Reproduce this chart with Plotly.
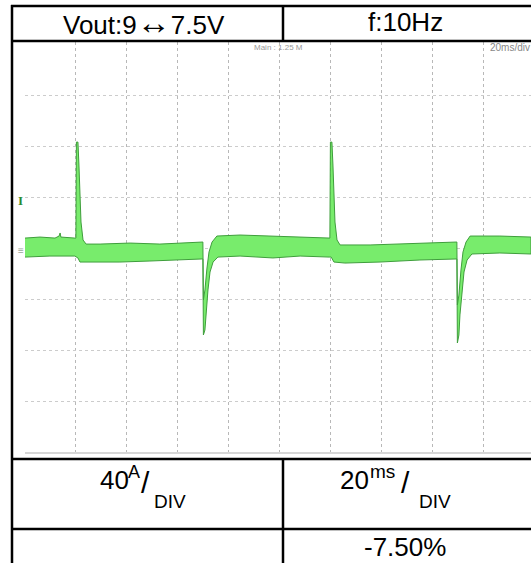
import plotly.graph_objects as go

# ---- data (time in ms, current in A relative to the ground marker) ----
upper_t = [0.0, 5.9, 11.8, 13.4, 13.8, 14.1, 19.6, 20.0, 20.2, 20.8, 21.2, 21.6, 22.0, 22.8, 24.0,
           29.5, 41.3, 53.0, 64.8, 69.5, 69.9, 70.1, 70.7, 71.5, 72.3, 73.5, 75.4,
           84.5, 96.3, 108.1, 119.5, 119.8, 120.0, 120.6, 121.0, 121.4, 121.8, 122.6, 123.8,
           135.6, 147.4, 159.1, 169.4, 169.7, 169.9, 170.5, 171.3, 172.1, 173.3, 174.9,
           186.6, 198.8]
upper_a = [7.8, 8.6, 7.8, 9.4, 11.8, 8.6, 7.8, 7.8, 83.1, 83.1, 65.1, 41.6, 20.4, 6.3, 3.1,
           3.1, 3.9, 3.1, 3.9, 4.7, 4.7, -40.8, -32.9, -15.7, -3.1, 4.7, 9.4,
           10.2, 9.4, 8.6, 7.8, 7.8, 83.1, 83.1, 65.1, 41.6, 20.4, 6.3, 2.4,
           2.4, 3.1, 3.9, 4.7, 4.7, -44.7, -36.9, -17.3, -3.1, 4.7, 9.4,
           9.4, 8.6]
lower_t = [0.0, 9.8, 19.6, 20.8, 21.6, 25.5, 37.3, 49.1, 60.9, 69.5, 69.9, 70.1, 70.7, 71.1,
           71.9, 72.7, 73.9, 75.8, 84.5, 97.4, 108.1, 119.5, 120.3, 121.4, 125.7, 139.5,
           155.2, 169.4, 169.7, 169.9, 170.5, 170.9, 171.7, 172.5, 173.7, 175.6, 186.6, 198.8]
lower_a = [-7.1, -6.3, -6.3, -7.8, -11.0, -11.0, -11.0, -10.2, -9.4, -8.6, -8.6, -68.2, -64.3, -50.2,
           -32.9, -18.8, -11.0, -7.1, -6.3, -7.8, -6.3, -7.1, -7.1, -11.0, -11.8, -11.0,
           -9.4, -8.6, -8.6, -74.5, -68.2, -52.5, -34.5, -18.8, -9.4, -4.7, -3.9, -4.7]

time_ticks = [0, 20, 40, 60, 80, 100, 120, 140, 160, 180]
amp_ticks = [-120, -80, -40, 0, 40, 80, 120]

header_left = "Vout:9<span style='font-size:34px'>\u2194</span>7.5V"
header_right = "f:10Hz"
scale_v = ("40", "A", "/", "DIV")
scale_t = ("20", "ms", "/", "DIV")
deviation = "-7.50%"
screen_main = "Main : 1.25 M"
screen_tdiv = "20ms/div"

W, H = 531, 563
def px(x):
    return x / W
def py(y):
    return 1 - y / H

fig = go.Figure()
poly_t = upper_t + lower_t[::-1]
poly_a = upper_a + lower_a[::-1]
fig.add_trace(go.Scatter(x=poly_t, y=poly_a, mode="lines", fill="toself",
                         fillcolor="#78ec6c", line=dict(color="#3f9e3c", width=1),
                         hoverinfo="skip", showlegend=False))

FONT = "Liberation Sans, Arial, sans-serif"
ann = []
def txt(t, x, y, size, color="black", family=FONT, xanchor="center"):
    ann.append(dict(text=t, x=px(x), y=py(y), xref="paper", yref="paper", showarrow=False,
                    xanchor=xanchor, yanchor="middle", font=dict(size=size, color=color, family=family)))

txt(header_left, 144, 22, 26)
txt(header_right, 405, 22, 26)
# bottom scale labels
txt(scale_v[0], 114, 480, 26)
txt(scale_v[1], 134, 471.5, 18)
txt(scale_v[2], 145.5, 482, 30)
txt(scale_v[3], 170, 501, 19)
txt(scale_t[0], 354.5, 480, 26)
txt(scale_t[1], 382, 471.5, 19)
txt(scale_t[2], 405, 482, 30)
txt(scale_t[3], 434.5, 501, 19)
txt(deviation, 404.5, 547, 26)
# scope screen labels
txt(screen_main, 278, 48, 8, color="#999999", family="Liberation Sans Narrow, Arial, sans-serif")
txt(screen_tdiv, 510, 48, 10, color="#888888", family="Liberation Sans Narrow, Arial, sans-serif")
txt("<b>I</b>", 20, 201, 13, color="#2e8b2e", family="Liberation Serif, serif")
txt("\u2261", 21, 251, 10, color="#9aa89a")

shapes = []
def hline(y, x0, x1, w=2.5):
    shapes.append(dict(type="line", xref="paper", yref="paper", x0=px(x0), x1=px(x1), y0=py(y), y1=py(y),
                       line=dict(color="black", width=w)))
def vline(x, y0, y1, w=2.5):
    shapes.append(dict(type="line", xref="paper", yref="paper", x0=px(x), x1=px(x), y0=py(y0), y1=py(y1),
                       line=dict(color="black", width=w)))
hline(6, 11, 545)
hline(41, 11, 545)
hline(459, 11, 545)
hline(529, 11, 545)
vline(12, 5, 580)
vline(283, 5, 41)
vline(283, 459, 580)

fig.update_layout(
    width=W, height=H, margin=dict(l=0, r=0, t=0, b=0),
    paper_bgcolor="white", plot_bgcolor="white",
    xaxis=dict(domain=[px(25), 1], range=[0, (531 - 25) * 0.39293], tickvals=time_ticks, showticklabels=False,
               showgrid=True, gridcolor="#b8b8b8", griddash="dot", gridwidth=1, zeroline=False,
               showline=True, linecolor="#d6d6d6", linewidth=2, ticks=""),
    yaxis=dict(domain=[py(452), py(42)], range=[-160.0, 161.6], tickvals=amp_ticks, showticklabels=False,
               showgrid=True, gridcolor="#cccccc", griddash="dot", gridwidth=1, zeroline=False,
               showline=False, ticks=""),
    annotations=ann, shapes=shapes,
)
fig.write_html("out.html", config={"displayModeBar": False},
               post_script="document.body.style.margin='0';document.body.style.overflow='hidden';")
